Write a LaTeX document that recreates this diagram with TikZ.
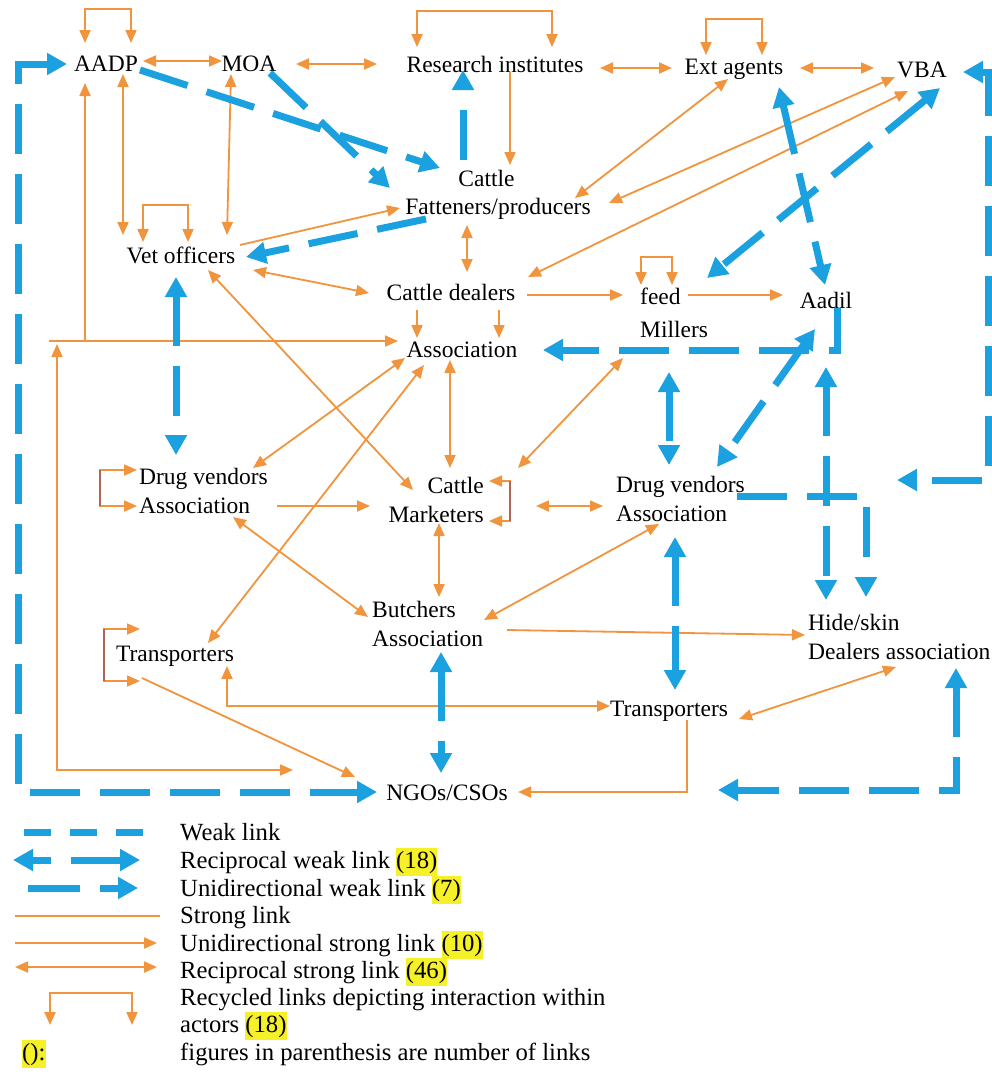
\documentclass[tikz,border=0pt]{standalone}
\usepackage{fontspec}
\setmainfont{Liberation Serif}
\usetikzlibrary{arrows.meta}
\definecolor{orn}{RGB}{240,148,62}
\definecolor{brn}{RGB}{180,100,85}
\definecolor{blu}{RGB}{27,160,224}
\definecolor{hly}{RGB}{245,240,40}
\newcommand{\yhl}[1]{{\setlength{\fboxsep}{0pt}\colorbox{hly}{\strut#1}}}
\tikzset{
  otip/.tip={Triangle[length=13pt,width=11pt]},
  btip/.tip={Triangle[length=20pt,width=21pt]},
  lbl/.style={inner sep=0pt, font=\fontsize{23.5}{28.5}\selectfont},
  leg/.style={inner sep=0pt, anchor=base west, font=\fontsize{24.7}{28}\selectfont},
  strong/.style={draw=orn,line width=1.8pt},
  ustrong/.style={strong,-otip},
  rstrong/.style={strong,otip-otip},
  weak/.style={draw=blu,line width=7pt,dash pattern=on 50pt off 20pt},
  uweak/.style={weak,-btip},
  rweak/.style={weak,btip-btip},
  bar/.style={draw=brn,line width=1.6pt}
}
\begin{document}
\begin{tikzpicture}[x=1pt,y=-1pt]
\fill[white] (0,0) rectangle (992,1076);
\useasboundingbox (0,0) rectangle (992,1076);
% nodes
\node[lbl] (aadp) at (106,64) {AADP};
\node[lbl] (moa) at (249,64) {MOA};
\node[lbl] (res) at (495,64) {Research institutes};
\node[lbl] (ext) at (734,69) {Ext agents};
\node[lbl] (vba) at (922,70) {VBA};
\node[lbl,align=center] (fat) at (498,195) {Cattle\hspace*{23pt}\\Fatteners/producers};
\node[lbl] (vet) at (181,255) {Vet officers};
\node[lbl] (dea) at (451,292) {Cattle dealers};
\node[lbl,align=left,anchor=west] (mil) at (640,313) {feed\\[4.5pt]Millers};
\node[lbl] (aad) at (826,300) {Aadil};
\node[lbl] (ass) at (462,350) {Association};
\node[lbl,align=left,anchor=west] (dvl) at (139,491) {Drug vendors\\Association};
\node[lbl,align=right,anchor=east] (cmk) at (484,500) {Cattle\\Marketers};
\node[lbl,align=left,anchor=west] (dvr) at (616,499) {Drug vendors\\Association};
\node[lbl,align=left,anchor=west] (but) at (372,624) {Butchers\\Association};
\node[lbl,align=left,anchor=west] (hid) at (808,637) {Hide/skin\\Dealers association};
\node[lbl] (trl) at (175,656) {Transporters};
\node[lbl] (trr) at (669,711) {Transporters};
\node[lbl] (ngo) at (447,793) {NGOs/CSOs};
% free ends
\coordinate (tl) at (49,341);
\coordinate (tj) at (85,341);
\coordinate (tk) at (57,344);
\coordinate (rf) at (897,480);
% strong links
\draw[rstrong] ([shift={(-21,-21)}]aadp.center) -- ++(0,-34) -- ++(46,0) -- ++(0,34);
\draw[rstrong] ([shift={(37,-3)}]aadp.center) -- ([shift={(-27,-3)}]moa.center);
\draw[rstrong] ([shift={(47,0)}]moa.center) -- ([shift={(-118,0)}]res.center);
\draw[rstrong] ([shift={(-78,-17)}]res.center) -- ++(0,-36) -- ++(135,0) -- ++(0,36);
\draw[ustrong] ([shift={(15,8)}]res.center) -- ([shift={(12,-30)}]fat.center);
\draw[rstrong] ([shift={(105,4)}]res.center) -- ([shift={(-62,-1)}]ext.center);
\draw[rstrong] ([shift={(-28,-14)}]ext.center) -- ++(0,-36) -- ++(56,0) -- ++(0,36);
\draw[rstrong] ([shift={(66,-1)}]ext.center) -- ([shift={(-48,-2)}]vba.center);
\draw[rstrong] ([shift={(-6,10)}]ext.center) -- ([shift={(77,3)}]fat.center);
\draw[rstrong] ([shift={(-27,7)}]vba.center) -- ([shift={(111,8)}]fat.center);
\draw[rstrong] ([shift={(-14,21)}]vba.center) -- ([shift={(77,-15)}]dea.center);
\draw[ustrong] ([shift={(59,-10)}]vet.center) -- ([shift={(-98,13)}]fat.center);
\draw[rstrong] ([shift={(17,10)}]aadp.center) -- ([shift={(-58,-20)}]vet.center);
\draw[rstrong] ([shift={(-18,10)}]moa.center) -- ([shift={(46,-20)}]vet.center);
\draw[rstrong] ([shift={(-38,-13)}]vet.center) -- ++(0,-37) -- ++(45,0) -- ++(0,37);
\draw[ustrong] (tl) -- ([shift={(-64,-9)}]ass.center);
\draw[ustrong] (tj) -- ([shift={(-21,19)}]aadp.center);
\draw[rstrong] (tk) |- ([shift={(-154,-23)}]ngo.center);
\draw[rstrong] ([shift={(72,15)}]vet.center) -- ([shift={(-82,1)}]dea.center);
\draw[rstrong] ([shift={(27,15)}]vet.center) -- ([shift={(-71,-10)}]cmk.east);
\draw[rstrong] ([shift={(-31,30)}]fat.center) -- ([shift={(16,-20)}]dea.center);
\draw[ustrong] ([shift={(-34,18)}]dea.center) -- ([shift={(-45,-12)}]ass.center);
\draw[ustrong] ([shift={(48,18)}]dea.center) -- ([shift={(37,-12)}]ass.center);
\draw[ustrong] ([shift={(76,3)}]dea.center) -- ([shift={(-17,-18)}]mil.west);
\draw[rstrong] ([shift={(1,-28)}]mil.west) -- ++(0,-28) -- ++(31,0) -- ++(0,28);
\draw[ustrong] ([shift={(48,-18)}]mil.west) -- ([shift={(-43,-5)}]aad.center);
\draw[rstrong] ([shift={(-12,10)}]ass.center) -- ([shift={(-34,-32)}]cmk.east);
\draw[rstrong] ([shift={(-57,8)}]ass.center) -- ([shift={(114,-23)}]dvl.west);
\draw[rstrong] ([shift={(-38,15)}]ass.center) -- ([shift={(33,-13)}]trl.center);
\draw[rstrong] ([shift={(-17,45)}]mil.west) -- ([shift={(34,-32)}]cmk.east);
\draw[rstrong] ([shift={(5,-19)}]cmk.east) -- ++(21,0) -- ++(0,40) -- ++(-21,0);
\draw[bar] ([shift={(26,-19)}]cmk.east) -- ++(0,40);
\draw[rstrong] ([shift={(-2,-21)}]dvl.west) -- ++(-37,0) -- ++(0,36) -- ++(37,0);
\draw[bar] ([shift={(-39,-21)}]dvl.west) -- ++(0,36);
\draw[ustrong] ([shift={(138,15)}]dvl.west) -- ([shift={(-114,6)}]cmk.east);
\draw[rstrong] ([shift={(52,6)}]cmk.east) -- ([shift={(-13,7)}]dvr.west);
\draw[rstrong] ([shift={(-45,23)}]cmk.east) -- ([shift={(67,-27)}]but.west);
\draw[rstrong] ([shift={(94,26)}]dvl.west) -- ([shift={(-4,-7)}]but.west);
\draw[rstrong] ([shift={(112,-4)}]but.west) -- ([shift={(43,25)}]dvr.west);
\draw[ustrong] ([shift={(135,6)}]but.west) -- ([shift={(-3,-2)}]hid.west);
\draw[rstrong] ([shift={(-35,-27)}]trl.center) -- ++(-36,0) -- ++(0,52) -- ++(36,0);
\draw[bar] ([shift={(-71,-27)}]trl.center) -- ++(0,52);
\draw[rstrong] ([shift={(52,10)}]trl.center) |- ([shift={(-59,-5)}]trr.center);
\draw[ustrong] ([shift={(-33,22)}]trl.center) -- ([shift={(-92,-16)}]ngo.center);
\draw[ustrong] ([shift={(18,9)}]trr.center) |- ([shift={(71,-1)}]ngo.center);
\draw[rstrong] ([shift={(70,8)}]trr.center) -- ([shift={(88,30)}]hid.west);
% weak links
\draw[uweak] ([shift={(34,6)}]aadp.center) -- ([shift={(-58,-27)}]fat.center);
\draw[uweak] ([shift={(21,9)}]moa.center) -- ([shift={(-108,-7)}]fat.center);
\draw[uweak] ([shift={(-35,-35)}]fat.center) -- ([shift={(-32,6)}]res.center);
\draw[uweak] ([shift={(-72,24)}]fat.center) -- ([shift={(65,2)}]vet.center);
\draw[rweak] ([shift={(-5,22)}]vet.center) -- ([shift={(37,-36)}]dvl.west);
\draw[rweak] ([shift={(18,18)}]vba.center) -- ([shift={(67,-35)}]mil.west);
\draw[rweak] ([shift={(45,18)}]ext.center) -- ([shift={(-1,-15)}]aad.center);
\draw[uweak] ([shift={(11,8)}]aad.center) |- ([shift={(81,0)}]ass.center);
\draw[rweak] ([shift={(29,59)}]mil.west) -- ([shift={(53,-34)}]dvr.west);
\draw[rweak] ([shift={(-11,29)}]aad.center) -- ([shift={(101,-32)}]dvr.west);
\draw[rweak] ([shift={(0,67)}]aad.center) -- ([shift={(18,-37)}]hid.west);
\draw[uweak] ([shift={(121,-3)}]dvr.west) -| ([shift={(58,-40)}]hid.west);
\draw[rweak] ([shift={(41,2)}]vba.center) -- ++(25,0) |- (rf);
\draw[rweak] ([shift={(148,31)}]hid.west) |- ([shift={(271,-3)}]ngo.center);
\draw[rweak] ([shift={(69,28)}]but.west) -- ([shift={(-6,-20)}]ngo.center);
\draw[rweak] ([shift={(59,38)}]dvr.west) -- ([shift={(6,-21)}]trr.center);
\draw[rweak] ([shift={(-39,0)}]aadp.center) -- ++(-49,0) |- ([shift={(-70,-1)}]ngo.center);
% legend
\draw[draw=blu,line width=7pt,dash pattern=on 27pt off 19pt] (24,832) -- (143,832);
\draw[draw=blu,line width=7pt,dash pattern=on 19pt off 20pt on 60pt,btip-btip] (13,860) -- (140,860);
\draw[draw=blu,line width=7pt,dash pattern=on 52pt off 20pt on 40pt,-btip] (28,888) -- (138,888);
\draw[strong] (15,916) -- (160,916);
\draw[ustrong] (15,943) -- (157,943);
\draw[rstrong] (15,967) -- (157,967);
\draw[rstrong] (50,1025) -- ++(0,-32) -- ++(82,0) -- ++(0,32);
\node[leg] (l1) at (180,840) {Weak link};
\node[leg] (l2) at (180,868) {Reciprocal weak link \yhl{(18)}};
\node[leg] (l3) at (180,896) {Unidirectional weak link \yhl{(7)}};
\node[leg] (l4) at (180,923) {Strong link};
\node[leg] (l5) at (180,951) {Unidirectional strong link \yhl{(10)}};
\node[leg] (l6) at (180,978) {Reciprocal strong link \yhl{(46)}};
\node[leg] (l7) at (180,1005) {Recycled links depicting interaction within};
\node[leg] (l8) at (180,1032) {actors \yhl{(18)}};
\node[leg] (l9) at (180,1060) {figures in parenthesis are number of links};
\node[leg] (l0) at (22,1060) {\yhl{():}};
\end{tikzpicture}
\end{document}
